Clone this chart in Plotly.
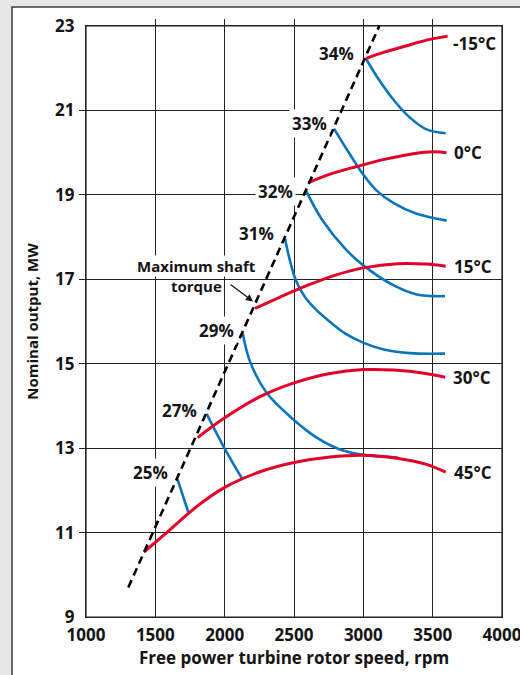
import plotly.graph_objects as go

# ---------------- data ----------------
x_ticks = [1000, 1500, 2000, 2500, 3000, 3500, 4000]
y_ticks = [9, 11, 13, 15, 17, 19, 21, 23]
x_inner_ticks = [1500, 2000, 2500, 3000, 3500]
y_inner_ticks = [11, 13, 15, 17, 19, 21]

# maximum shaft torque line
torque_x = [1305, 3115]
torque_y = [9.70, 23.0]

# ambient temperature lines (red)
temp_labels = ["-15°C", "0°C", "15°C", "30°C", "45°C"]
t_m15_x = [3019, 3150, 3300, 3450, 3608]
t_m15_y = [22.23, 22.38, 22.52, 22.66, 22.76]
t_0_x = [2603, 2760, 2952, 3150, 3350, 3505, 3600]
t_0_y = [19.29, 19.49, 19.67, 19.84, 19.97, 20.02, 20.00]
t_15_x = [2219, 2400, 2600, 2800, 3000, 3250, 3450, 3594]
t_15_y = [16.31, 16.58, 16.86, 17.10, 17.27, 17.37, 17.36, 17.31]
t_30_x = [1805, 2000, 2255, 2495, 2760, 3000, 3216, 3450, 3590]
t_30_y = [13.25, 13.72, 14.22, 14.54, 14.77, 14.86, 14.85, 14.77, 14.68]
t_45_x = [1418, 1582, 1800, 2000, 2255, 2500, 2760, 3000, 3264, 3450, 3594]
t_45_y = [10.54, 11.00, 11.62, 12.07, 12.44, 12.66, 12.79, 12.83, 12.75, 12.62, 12.43]

# efficiency lines (blue)
eff_labels = ["34%", "33%", "32%", "31%", "29%", "27%", "25%"]
e34_x = [3019, 3096, 3216, 3336, 3457, 3594]
e34_y = [22.23, 21.81, 21.26, 20.83, 20.55, 20.46]
e33_x = [2788, 2880, 2952, 3002, 3096, 3216, 3385, 3601]
e33_y = [20.57, 20.08, 19.71, 19.47, 19.10, 18.81, 18.55, 18.39]
e32_x = [2586, 2699, 2870, 3000, 3216, 3385, 3589]
e32_y = [19.10, 18.43, 17.72, 17.33, 16.86, 16.64, 16.60]
e31_x = [2435, 2471, 2514, 2579, 2659, 2760, 2868, 2998, 3156, 3336, 3589]
e31_y = [17.96, 17.44, 16.97, 16.58, 16.28, 15.99, 15.72, 15.50, 15.33, 15.25, 15.24]
e29_x = [2130, 2183, 2303, 2495, 2664, 2832, 3000, 3248]
e29_y = [15.72, 15.05, 14.31, 13.68, 13.25, 12.97, 12.84, 12.78]
e27_x = [1870, 1990, 2127]
e27_y = [13.81, 13.05, 12.27]
e25_x = [1660, 1738]
e25_y = [12.26, 11.48]

RED = "#e2002b"
BLUE = "#0a74bb"
INK = "#141414"
FONT = "Open Sans"
W = 700

temps = [(t_m15_x, t_m15_y), (t_0_x, t_0_y), (t_15_x, t_15_y), (t_30_x, t_30_y), (t_45_x, t_45_y)]
effs = [(e34_x, e34_y), (e33_x, e33_y), (e32_x, e32_y), (e31_x, e31_y),
        (e29_x, e29_y), (e27_x, e27_y), (e25_x, e25_y)]

fig = go.Figure()

for ex, ey in effs:
    fig.add_trace(go.Scatter(x=ex, y=ey, mode="lines",
                             line=dict(color=BLUE, width=2.6, shape="spline", smoothing=1.0),
                             showlegend=False, hoverinfo="skip"))
for tx, ty in temps:
    fig.add_trace(go.Scatter(x=tx, y=ty, mode="lines",
                             line=dict(color=RED, width=3, shape="spline", smoothing=1.0),
                             showlegend=False, hoverinfo="skip"))
fig.add_trace(go.Scatter(x=torque_x, y=torque_y, mode="lines",
                         line=dict(color="black", width=2.6, dash="8px,5px"),
                         showlegend=False, hoverinfo="skip", cliponaxis=False))
# dummy trace for tick-stub overlay axes
fig.add_trace(go.Scatter(x=[None], y=[None], xaxis="x2", yaxis="y2",
                         showlegend=False, hoverinfo="skip"))

lab_font = dict(family=FONT, size=17, color=INK, weight=W)

# efficiency labels (anchored at the start of each blue line)
eff_shift = [(-9, 5), (-4, 5), (-10, -1), (-8, 5), (-6, 3), (-7, 3), (-7, 7)]
for (ex, ey), lab, (dx, dy) in zip(effs, eff_labels, eff_shift):
    fig.add_annotation(x=ex[0], y=ey[0], text=lab, showarrow=False,
                       xanchor="right", yanchor="middle", xshift=dx, yshift=dy,
                       font=lab_font, bgcolor="white", borderpad=2)

# temperature labels (anchored at the end of each red line)
temp_shift = [(3, -7), (5, 0), (6, 0), (6, 0), (6, 0)]
for (tx, ty), lab, (dx, dy) in zip(temps, temp_labels, temp_shift):
    fig.add_annotation(x=tx[-1], y=ty[-1], text=lab, showarrow=False,
                       xanchor="left", yanchor="middle", xshift=dx, yshift=dy,
                       font=lab_font)

# maximum shaft torque callout
fig.add_annotation(x=t_15_x[0], y=t_15_y[0], text="", showarrow=True,
                   ax=-24, ay=-18, xshift=-2, yshift=7,
                   arrowhead=2, arrowsize=1.1, arrowwidth=1.3, arrowcolor=INK)
fig.add_annotation(x=t_15_x[0], y=t_15_y[0], text="Maximum shaft", showarrow=False,
                   xanchor="center", yanchor="middle", xshift=-59, yshift=42,
                   font=dict(family=FONT, size=15, color=INK, weight=W),
                   bgcolor="white", borderpad=0)
fig.add_annotation(x=t_15_x[0], y=t_15_y[0], text="torque", showarrow=False,
                   xanchor="center", yanchor="middle", xshift=-59, yshift=22,
                   font=dict(family=FONT, size=15, color=INK, weight=W), borderpad=0)

# white panel with dark frame on the grey page
fig.add_shape(type="rect", xref="paper", yref="paper",
              x0=(12 - 86) / 416, x1=(530 - 86) / 416,
              y0=-(690 - 617) / 591, y1=1 + (26 - 7) / 591,
              fillcolor="white", line=dict(color="#3a3a3a", width=1.5), layer="below")
# plot-area frame
fig.add_shape(type="rect", xref="paper", yref="paper", x0=0, x1=1, y0=0, y1=1,
              fillcolor="rgba(0,0,0,0)", line=dict(color="#222", width=1.2), layer="below")

tick_font = dict(family=FONT, size=17, color=INK, weight=W)
fig.update_layout(
    width=520, height=675,
    margin=dict(l=86, r=18, t=26, b=58, autoexpand=False),
    paper_bgcolor="#e6e6ea", plot_bgcolor="rgba(0,0,0,0)",
    showlegend=False,
    xaxis=dict(range=[1000, 4000], tickvals=x_ticks, ticktext=[str(v) for v in x_ticks],
               showgrid=True, gridcolor="#222", gridwidth=1,
               showline=True, linecolor="#222", linewidth=1.2, mirror=True,
               ticks="", zeroline=False, tickfont=tick_font, ticklabelstandoff=2,
               ticklabeloverflow="allow", automargin=False,
               title=dict(text="Free power turbine rotor speed, rpm",
                          font=dict(family=FONT, size=17, color=INK, weight=W), standoff=7)),
    yaxis=dict(range=[9, 23], tickvals=y_ticks,
               showgrid=True, gridcolor="#222", gridwidth=1,
               showline=True, linecolor="#222", linewidth=1.2, mirror=True,
               ticks="", zeroline=False, tickfont=tick_font, ticklabelstandoff=7,
               ticklabeloverflow="allow", automargin=False,
               title=dict(text="Nominal output, MW",
                          font=dict(family=FONT, size=15, color=INK, weight=W), standoff=12)),
    xaxis2=dict(range=[1000, 4000], overlaying="x", side="top", anchor="y",
                tickvals=x_inner_ticks, ticks="outside", ticklen=6, tickcolor="#222",
                tickwidth=1, showticklabels=False, showgrid=False, showline=False,
                zeroline=False, automargin=False),
    yaxis2=dict(range=[9, 23], overlaying="y", side="left", anchor="x",
                tickvals=y_inner_ticks, ticks="outside", ticklen=6, tickcolor="#222",
                tickwidth=1, showticklabels=False, showgrid=False, showline=False,
                zeroline=False, automargin=False),
)

fig.write_html("out.html", config={"displayModeBar": False},
               post_script="document.body.style.margin='0';"
                           "document.body.style.background='#e6e6ea';")
